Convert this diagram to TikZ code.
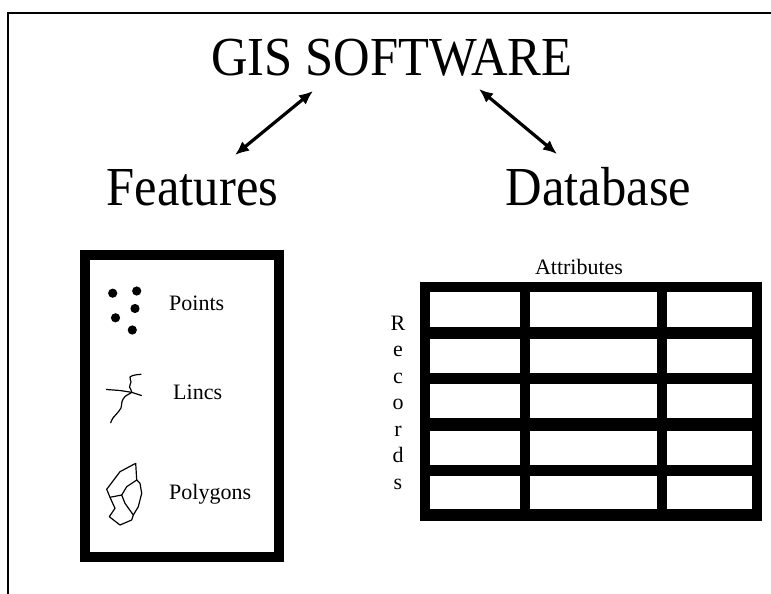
\documentclass[tikz,border=0pt]{standalone}
\usepackage{fontspec}
\setmainfont{Liberation Serif}
\usetikzlibrary{arrows.meta}
\begin{document}
\begin{tikzpicture}[x=1pt,y=-1pt,
  heading/.style={anchor=base, inner sep=0pt, font=\fontsize{55}{60}\selectfont},
  smalltext/.style={anchor=base west, inner sep=0pt, font=\fontsize{22}{26}\selectfont},
  lettertext/.style={anchor=base, inner sep=0pt, font=\fontsize{22}{26}\selectfont},
  link/.style={{Latex[length=14pt,width=12pt]}-{Latex[length=14pt,width=12pt]}, line width=3.2pt},
  sketch/.style={line width=1.2pt, line join=round, line cap=round},
  framebox/.style={line width=10pt},
  dot/.style={radius=4.6pt}
  ]
\useasboundingbox (0,0) rectangle (771,594);

% outer frame (open on the right and bottom)
\draw[line width=2.5pt] (8,600) -- (8,13) -- (780,13);

% headings
\node[heading] (gis)  at (392,75)    {\scalebox{0.92}[1]{GIS SOFTWARE}};
\node[heading] (feat) at (192.5,205) {\scalebox{0.92}[1]{Features}};
\node[heading] (db)   at (598.5,205) {\scalebox{0.92}[1]{Database}};

% arrow end points
\coordinate (gisL)  at (313,91);
\coordinate (featT) at (235,155);
\coordinate (gisR)  at (479,89);
\coordinate (dbT)   at (557,154);
\draw[link] (gisL) -- (featT);
\draw[link] (gisR) -- (dbT);

% features panel
\draw[framebox] (85.3,255.3) rectangle (278.5,557);

\fill (112.7,293.2) circle[dot];
\fill (136.7,291.0) circle[dot];
\fill (135.0,308.5) circle[dot];
\fill (115.5,317.8) circle[dot];
\fill (132.3,330.0) circle[dot];
\node[smalltext] (pts) at (169,310) {Points};

\draw[sketch] (106.5,389.5) -- (120,390.5) -- (131.5,392.3) -- (141.5,395.5);
\draw[sketch] plot[smooth] coordinates {(141,374.3) (135,375) (130,377) (131,382)
  (129.5,387) (131.7,392) (125,396.5) (122,401.5) (121,408) (116.5,414)
  (112.7,418.3) (110.7,422.7)};
\node[smalltext] (lns) at (173,399) {Lincs};

\draw[sketch] (135.7,463.3) -- (120,471.7) -- (106.7,489.3) -- (110,497.3)
  -- (115,508.3) -- (109.3,516.7) -- (120,525) -- (131.7,520) -- (133.3,515)
  -- (138.3,506.7) -- (141.7,493.3) -- (140,483.3) -- (136.7,480) -- cycle;
\draw[sketch] (110,497.3) -- (121.7,495) -- (126.7,486.7) -- (136.7,480);
\draw[sketch] (121.7,495) -- (125,503.3) -- (133.3,515);
\node[smalltext] (pol) at (169,499) {Polygons};

% database table
\node[lettertext] (attr) at (579,274) {Attributes};
\foreach \ch [count=\i from 0] in {R,e,c,o,r,d,s}
  \node[lettertext] (rec\i) at (398,{330+26.5*\i}) {\ch};

\fill (420,282) rectangle (762,521);
\foreach \ya/\yb in {292/327,339/373,384/418,431/465,476/509}
  \foreach \xa/\xb in {430/520,530/657,667/752}
    \fill[white] (\xa,\ya) rectangle (\xb,\yb);
\end{tikzpicture}
\end{document}
